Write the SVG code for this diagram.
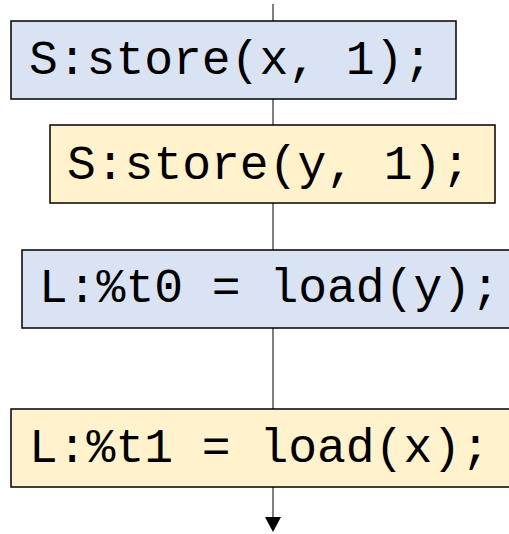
<svg xmlns="http://www.w3.org/2000/svg" width="509" height="534" viewBox="0 0 509 534">
  <style>
    .box { stroke: #000; stroke-width: 1.5; }
    .blue { fill: #dae3f3; }
    .yellow { fill: #fff2cc; }
    .code { font-family: "Liberation Mono", "Courier New", monospace; font-size: 48px; fill: #000; }
    .wire { stroke: #555; stroke-width: 1.5; fill: none; }
  </style>
  <g id="connectors">
    <line class="wire" x1="273" y1="4" x2="273" y2="21"/>
    <line class="wire" x1="273" y1="99" x2="273" y2="125"/>
    <line class="wire" x1="273" y1="203" x2="273" y2="250"/>
    <line class="wire" x1="273" y1="328" x2="273" y2="409"/>
    <line class="wire" x1="273" y1="487" x2="273" y2="517"/>
    <path d="M265,517 L281,517 L273,532 Z" fill="#000"/>
  </g>
  <g id="node-store-x">
    <rect class="box blue" x="11" y="21" width="445" height="78"/>
    <text class="code" x="29" y="73.5">S:store(x, 1);</text>
  </g>
  <g id="node-store-y">
    <rect class="box yellow" x="50" y="125" width="445" height="78"/>
    <text class="code" x="67" y="179">S:store(y, 1);</text>
  </g>
  <g id="node-load-y">
    <rect class="box blue" x="22" y="250" width="500" height="78"/>
    <text class="code" x="39" y="301.5">L:%t0 = load(y);</text>
  </g>
  <g id="node-load-x">
    <rect class="box yellow" x="11" y="409" width="510" height="78"/>
    <text class="code" x="29" y="461.5">L:%t1 = load(x);</text>
  </g>
</svg>
